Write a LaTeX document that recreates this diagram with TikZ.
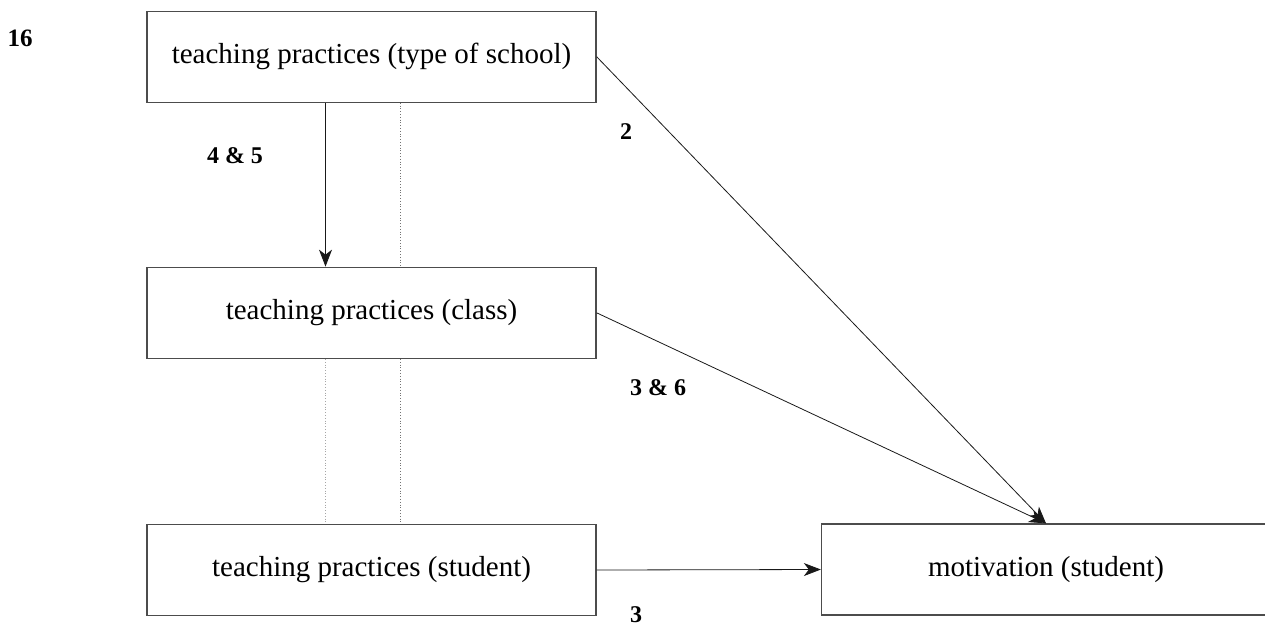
\documentclass[tikz,border=0pt]{standalone}
\usepackage{fontspec}
\setmainfont{Liberation Serif}
\usetikzlibrary{arrows.meta}
\tikzset{
  boxnode/.style={draw=black!70, line width=1.3pt, minimum width=449pt, minimum height=91pt, inner sep=0pt, font=\fontsize{29}{34}\selectfont},
  numlabel/.style={inner sep=0pt, font=\fontsize{24}{28}\selectfont\bfseries},
  conn/.style={line width=0.8pt, draw=black!90, -{Stealth[length=17pt,width=13pt,inset=5pt]}},
  guide/.style={dotted, line width=0.8pt, draw=black!55}
}
\begin{document}
\begin{tikzpicture}[x=1pt,y=-1pt]
\useasboundingbox (0,0) rectangle (1265,630);
\node[boxnode] (school) at (371.5,56.7) {teaching practices (type of school)};
\node[boxnode] (class) at (371.5,312.8) {teaching practices (class)};
\node[boxnode] (student) at (371.5,570) {teaching practices (student)};
\node[boxnode] (motiv) at (1046,569.5) {motivation (student)};
\coordinate (xa) at (325.5,0);
\coordinate (xb) at (400.5,0);
\draw[conn] (school.south -| xa) -- (class.north -| xa);
\draw[guide] (school.south -| xb) -- (class.north -| xb);
\draw[guide, draw=black!35] (class.south -| xa) -- (student.north -| xa);
\draw[guide] (class.south -| xb) -- (student.north -| xb);
\draw[conn] (school.east) -- (motiv.north);
\draw[conn] (class.east) -- (motiv.north);
\draw[conn] (student.east) -- (motiv.west);
\node[numlabel, font=\fontsize{25}{30}\selectfont\bfseries] (fig) at (20,38) {16};
\node[numlabel] (l45) at (235,156) {4 \& 5};
\node[numlabel] (l2) at (626,132) {2};
\node[numlabel] (l36) at (658,388) {3 \& 6};
\node[numlabel] (l3) at (636,615) {3};
\end{tikzpicture}
\end{document}
